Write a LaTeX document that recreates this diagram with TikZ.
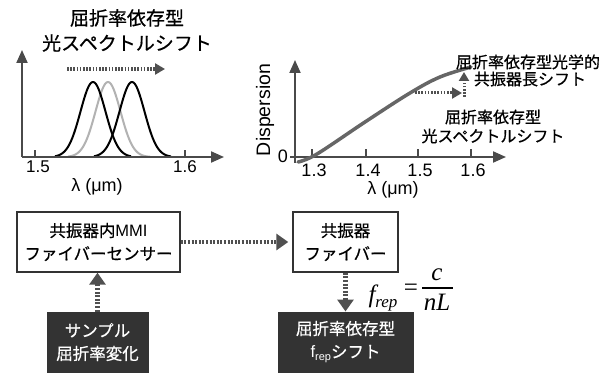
\documentclass[tikz,border=0pt]{standalone}
\usepackage{fontspec}
\setmainfont{Liberation Sans}
\newfontfamily\jp[FakeBold=0.6]{Noto Sans CJK JP}
\newfontfamily\tnr{Liberation Serif}
\usetikzlibrary{arrows.meta}
\definecolor{axgray}{HTML}{4A4A4A}
\definecolor{arrgray}{HTML}{505050}
\definecolor{boxdark}{HTML}{333333}
\definecolor{curvegray}{HTML}{666666}
\tikzset{
  axis/.style={draw=axgray, line width=2pt, -{Triangle[width=11pt,length=13pt]}},
  tick/.style={draw=axgray, line width=1.5pt},
  dotarrow/.style={draw=arrgray, line width=4.5pt, dash pattern=on 2pt off 1.6pt, -{Triangle[width=16pt,length=12pt]}},
  smallarrow/.style={draw=arrgray, line width=3.2pt, dash pattern=on 1.6pt off 1.6pt, -{Triangle[width=11pt,length=10pt]}},
  lbl/.style={inner sep=0pt, font=\fontsize{17}{20}\selectfont},
  jptitle/.style={inner sep=0pt, font=\jp\fontsize{19}{22}\selectfont},
  jpsmall/.style={inner sep=0pt, font=\jp\fontsize{16}{19}\selectfont},
  whitebox/.style={draw=boxdark, line width=1.4pt, fill=white, align=center, inner sep=0pt, font=\jp\fontsize{16.5}{23}\selectfont},
  darkbox/.style={draw=boxdark, fill=boxdark, text=white, line width=1pt, align=center, inner sep=0pt, font=\jp\fontsize{16.5}{23}\selectfont},
  gauss/.style={line width=2pt, black},
}
\begin{document}
\begin{tikzpicture}[x=1pt,y=-1pt]
\useasboundingbox[fill=white] (0,0) rectangle (610,374);

% ---------- left plot ----------
\node[jptitle] (t1) at (127,18) {屈折率依存型};
\node[jptitle] (t2) at (127,43) {光スペクトルシフト};
\coordinate (lo) at (22,157);
\coordinate (lytip) at (22,50);
\coordinate (lxtip) at (224,157);
\draw[gauss, draw=gray!60] plot[domain=68:150, samples=80, smooth] (\x, {157-75*exp(-((\x-108)/12.5)^2/2)});
\draw[gauss] plot[domain=55:131, samples=80, smooth] (\x, {157-75*exp(-((\x-93)/12.5)^2/2)});
\draw[gauss] plot[domain=94:171, samples=80, smooth] (\x, {157-75*exp(-((\x-132)/12.5)^2/2)});
\draw[axis] (lo) -- (lytip);
\draw[axis] (lo) -- (lxtip);
\coordinate (lt1) at (35,157);
\coordinate (lt2) at (185,157);
\draw[tick] (lt1) -- ++(0,-7);
\draw[tick] (lt2) -- ++(0,-7);
\node[lbl] (l15) at (38,167) {1.5};
\node[lbl] (l16) at (185,167) {1.6};
\node[lbl, font=\fontsize{18}{20}\selectfont] (llam) at (97,187) {λ (μm)};
\coordinate (ls) at (67,69);
\coordinate (le) at (165,69);
\draw[smallarrow, line width=3.5pt] (ls) -- (le);

% ---------- right plot ----------
\coordinate (ro) at (295,157);
\draw[axis] (295,163) -- (295,60) coordinate (rytip);
\draw[axis] (290,157) -- (506,157) coordinate (rxtip);
\foreach \xx/\tt [count=\i] in {312/1.3,366/1.4,418/1.5,471/1.6}{
  \draw[tick] (\xx,157) -- (\xx,149);
  \node[lbl, font=\fontsize{18}{20}\selectfont] (rt\i) at (\xx+2,170) {\tt};
}
\node[lbl, font=\fontsize{18}{20}\selectfont] (rzero) at (283,156) {0};
\node[lbl, font=\fontsize{19.5}{20}\selectfont, rotate=90] (disp) at (265,110) {Dispersion};
\node[lbl, font=\fontsize{18}{20}\selectfont] (rlam) at (393,190) {λ (μm)};
\draw[curvegray, line width=3.5pt, line cap=round] plot[smooth, tension=0.6] coordinates {(298,162) (317,154) (365,122) (410,93) (440,77) (471,67)};
\coordinate (hs) at (415,93);
\coordinate (he) at (462,93);
\draw[smallarrow, line width=3pt] (hs) -- (he);
\coordinate (vs) at (464,97);
\coordinate (ve) at (464,72);
\draw[smallarrow, line width=3pt, -{Triangle[width=10pt,length=9pt]}] (vs) -- (ve);
\node[jpsmall] (r1) at (528,62) {屈折率依存型光学的};
\node[jpsmall] (r2) at (530,79) {共振器長シフト};
\node[jpsmall] (r3) at (493,117) {屈折率依存型};
\node[jpsmall] (r4) at (493,136) {光スペクトルシフト};

% ---------- bottom blocks ----------
\node[whitebox, minimum width=163pt, minimum height=60pt] (box1) at (98.5,242) {共振器内{\rmfamily MMI}\\ファイバーセンサー};
\node[whitebox, minimum width=105pt, minimum height=60pt] (box2) at (345.5,242) {共振器\\ファイバー};
\node[darkbox, minimum width=135pt, minimum height=60pt] (box3) at (345.5,342) {屈折率依存型\\{\rmfamily f\raisebox{-0.35ex}{\fontsize{11}{12}\selectfont rep}}シフト};
\node[darkbox, minimum width=101pt, minimum height=60pt] (box4) at (97.5,342) {サンプル\\屈折率変化};
\draw[dotarrow, shorten >=4pt] (box1.east) -- (box2.west);
\draw[dotarrow] (box4.north) -- (box4.north |- box1.south);
\draw[dotarrow] (box2.south) -- (box3.north);

% formula
\node[inner sep=0pt, anchor=base, font=\tnr\itshape\fontsize{25}{26}\selectfont] (ff) at (383,302) {f\raisebox{-0.45ex}{\fontsize{17}{18}\selectfont rep}};
\node[inner sep=0pt, font=\tnr\fontsize{25}{26}\selectfont] (eq) at (411,290) {=};
\node[inner sep=0pt, anchor=base, font=\tnr\itshape\fontsize{25}{26}\selectfont] (fc) at (437,280) {c};
\node[inner sep=0pt, anchor=base, font=\tnr\itshape\fontsize{25}{26}\selectfont] (fn) at (437,310) {nL};
\coordinate (fb1) at (422,288);
\coordinate (fb2) at (453,288);
\draw[line width=1.2pt] (fb1) -- (fb2);
\end{tikzpicture}
\end{document}
